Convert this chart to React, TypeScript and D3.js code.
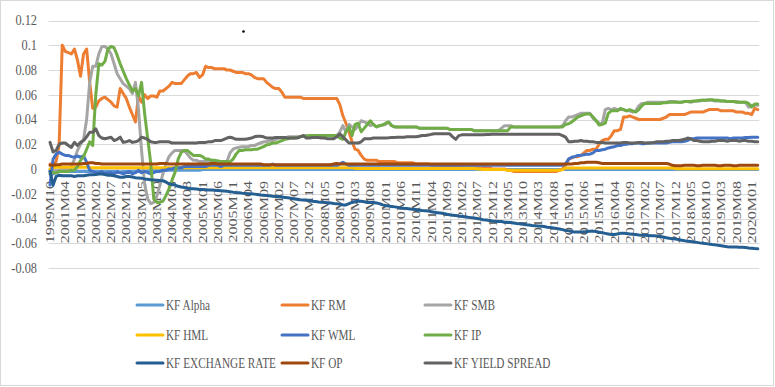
import React from 'react';
import * as d3 from 'd3';

// x axis: one label every 5 months (first row is labelled 1999M10)
const xTickLabels = [
  '1999M10', '2001M04', '2001M09', '2002M02', '2002M07', '2002M12', '2003M05', '2003M10',
  '2004M03', '2004M08', '2005M01', '2005M06', '2005M11', '2006M04', '2006M09', '2007M02',
  '2007M07', '2007M12', '2008M05', '2008M10', '2009M03', '2009M08', '2010M01', '2010M06',
  '2010M11', '2011M04', '2011M09', '2012M02', '2012M07', '2012M12', '2013M05', '2013M10',
  '2014M03', '2014M08', '2015M01', '2015M06', '2015M11', '2016M04', '2016M09', '2017M02',
  '2017M07', '2017M12', '2018M05', '2018M10', '2019M03', '2019M08', '2020M01',
];
const yTicks = [-0.08, -0.06, -0.04, -0.02, 0, 0.02, 0.04, 0.06, 0.08, 0.1, 0.12];

const kfAlpha = [
  -0.001, -0.004, -0.003, -0.002, -0.002, -0.002, -0.002, -0.002, -0.002, -0.002,
  -0.002, -0.002, -0.002, -0.002, -0.002, -0.002, -0.002, -0.002, -0.002, -0.002,
  -0.002, -0.002, -0.0025, -0.0025, -0.002, -0.002, -0.002, -0.002, -0.002, -0.002,
  -0.002, -0.002, -0.0015, -0.0015, -0.0015, -0.0015, -0.0015, -0.0015, -0.001, -0.001,
  -0.001, -0.001, -0.001, -0.001, -0.001, -0.001, -0.001, -0.001, -0.001, -0.001,
  -0.0005, -0.0005, -0.0005, -0.0005, -0.0005, -0.0005, -0.0005, -0.0005, -0.0005, -0.0005,
  -0.0005, -0.0005, -0.0005, -0.0005, -0.0005, -0.0005, -0.0005, -0.0005, -0.0005, -0.0005,
  -0.0005, -0.0005, -0.0005, -0.0005, -0.0005, -0.0005, -0.0005, -0.0005, -0.0005, -0.0005,
  -0.0005, -0.0005, -0.0005, -0.0005, -0.0005, -0.0005, -0.0005, -0.0005, -0.0005, -0.0005,
  -0.0005, -0.0005, -0.0005, -0.0005, -0.0005, -0.0005, -0.0005, -0.0005, -0.0005, -0.0005,
  -0.0005, -0.0005, -0.0005, -0.0005, -0.0005, -0.0005, -0.0005, -0.0005, -0.0005, -0.0005,
  -0.0005, -0.0005, -0.0005, -0.0005, -0.0005, -0.0005, -0.0005, -0.0005, -0.0005, -0.0005,
  -0.0005, -0.0005, -0.0005, -0.0005, -0.0005, -0.0005, -0.0005, -0.0005, -0.0005, -0.0005,
  -0.0005, -0.0005, -0.0005, -0.0005, -0.0005, -0.0005, -0.0005, -0.0005, -0.0005, -0.0005,
  -0.0005, -0.0005, -0.0005, -0.0005, -0.0005, -0.0005, -0.0005, -0.0005, -0.0005, -0.0005,
  -0.0005, -0.0005, -0.0005, -0.0005, -0.0005, -0.0005, -0.0005, -0.0005, -0.0005, -0.0005,
  -0.0005, -0.0005, -0.0005, -0.0005, -0.0005, -0.0005, -0.0005, -0.0005, -0.0005, -0.0005,
  -0.0005, -0.0005, -0.0005, -0.0005, -0.0005, -0.0005, -0.0005, -0.0005, -0.0005, -0.0005,
  -0.0005, -0.0005, -0.0005, -0.0005, -0.0005, -0.0005, -0.0005, -0.0005, -0.0005, -0.0005,
  -0.0005, -0.0005, -0.0005, -0.0005, -0.0005, -0.0005, -0.0005, -0.0005, -0.0005, -0.0005,
  -0.0005, -0.0005, -0.0005, -0.0005, -0.0005, -0.0005, -0.0005, -0.0005, -0.0005, -0.0005,
  -0.0005, -0.0005, -0.0005, -0.0005, -0.0005, -0.0005, -0.0005, -0.0005, -0.0005, -0.0005,
  -0.0005, -0.0005, -0.0005, -0.0005, -0.0005, -0.0005, -0.0005, -0.0005, -0.0005, -0.0005,
  -0.0005, -0.0005, -0.0005,
];

const kfRm = [
  0.004, 0.004, 0.006, 0.02, 0.1, 0.095, 0.094, 0.093, 0.097, 0.088,
  0.075, 0.093, 0.097, 0.07, 0.049, 0.05, 0.055, 0.057, 0.058, 0.056,
  0.054, 0.051, 0.05, 0.065, 0.061, 0.057, 0.05, 0.044, 0.038, 0.059,
  0.054, 0.06, 0.057, 0.059, 0.059, 0.058, 0.063, 0.063, 0.065, 0.067,
  0.07, 0.069, 0.069, 0.069, 0.072, 0.075, 0.077, 0.077, 0.078, 0.074,
  0.076, 0.083, 0.082, 0.082, 0.081, 0.081, 0.081, 0.081, 0.08, 0.08,
  0.079, 0.078, 0.078, 0.078, 0.077, 0.077, 0.076, 0.074, 0.073, 0.073,
  0.073, 0.07, 0.068, 0.066, 0.065, 0.065, 0.062, 0.058, 0.058, 0.058,
  0.058, 0.058, 0.058, 0.057, 0.057, 0.057, 0.057, 0.057, 0.057, 0.057,
  0.057, 0.057, 0.057, 0.057, 0.057, 0.052, 0.043, 0.037, 0.03, 0.022,
  0.016, 0.015, 0.011, 0.008, 0.007, 0.007, 0.007, 0.007, 0.006, 0.006,
  0.006, 0.006, 0.006, 0.006, 0.005, 0.005, 0.005, 0.005, 0.005, 0.005,
  0.004, 0.004, 0.004, 0.004, 0.004, 0.003, 0.003, 0.003, 0.002, 0.002,
  0.002, 0.002, 0.002, 0.002, 0.002, 0.001, 0.001, 0.001, 0.001, 0.001,
  0.001, 0.001, 0.001, 0.001, 0.001, 0, 0, 0, 0, 0,
  -0.001, -0.001, -0.002, -0.002, -0.002, -0.002, -0.002, -0.002, -0.002, -0.002,
  -0.002, -0.002, -0.002, -0.002, -0.002, -0.002, -0.002, -0.001, 0, 0.003,
  0.008, 0.009, 0.01, 0.01, 0.011, 0.013, 0.015, 0.015, 0.016, 0.016,
  0.02, 0.023, 0.024, 0.024, 0.027, 0.031, 0.031, 0.032, 0.042, 0.042,
  0.043, 0.042, 0.041, 0.04, 0.04, 0.04, 0.04, 0.04, 0.04, 0.04,
  0.04, 0.041, 0.042, 0.044, 0.044, 0.044, 0.044, 0.044, 0.044, 0.045,
  0.046, 0.046, 0.046, 0.046, 0.046, 0.047, 0.048, 0.048, 0.048, 0.048,
  0.047, 0.047, 0.047, 0.047, 0.047, 0.046, 0.046, 0.046, 0.045, 0.045,
  0.044, 0.049, 0.048,
];

const kfSmb = [
  -0.002, -0.002, -0.001, -0.001, 0, 0, -0.001, 0.002, 0.008, 0.015,
  0.02, 0.024, 0.04, 0.07, 0.083, 0.083, 0.093, 0.099, 0.099, 0.097,
  0.093, 0.085, 0.077, 0.073, 0.069, 0.067, 0.065, 0.061, 0.07, 0.048,
  0.015, -0.012, -0.024, -0.028, -0.027, -0.022, -0.013, -0.004, 0.004, 0.01,
  0.013, 0.015, 0.015, 0.015, 0.015, 0.012, 0.009, 0.007, 0.007, 0.006,
  0.006, 0.006, 0.006, 0.0055, 0.0055, 0.0055, 0.0055, 0.006, 0.006, 0.013,
  0.016, 0.017, 0.0175, 0.018, 0.018, 0.018, 0.019, 0.019, 0.02, 0.021,
  0.022, 0.022, 0.023, 0.023, 0.024, 0.025, 0.025, 0.025, 0.026, 0.026,
  0.026, 0.026, 0.026, 0.027, 0.027, 0.026, 0.027, 0.027, 0.027, 0.027,
  0.027, 0.027, 0.027, 0.026, 0.027, 0.03, 0.035, 0.03, 0.036, 0.034,
  0.032, 0.035, 0.039, 0.038, 0.037, 0.035, 0.036, 0.034, 0.035, 0.0355,
  0.036, 0.038, 0.035, 0.034, 0.034, 0.034, 0.034, 0.034, 0.034, 0.034,
  0.034, 0.033, 0.033, 0.033, 0.033, 0.033, 0.033, 0.033, 0.033, 0.033,
  0.033, 0.032, 0.032, 0.032, 0.032, 0.032, 0.032, 0.032, 0.032, 0.031,
  0.031, 0.031, 0.031, 0.031, 0.031, 0.031, 0.031, 0.031, 0.033, 0.035,
  0.035, 0.035, 0.034, 0.034, 0.034, 0.034, 0.034, 0.034, 0.034, 0.034,
  0.034, 0.034, 0.034, 0.034, 0.034, 0.034, 0.034, 0.034, 0.035, 0.039,
  0.042, 0.042, 0.043, 0.044, 0.045, 0.045, 0.045, 0.045, 0.041, 0.039,
  0.037, 0.0365, 0.048, 0.049, 0.048, 0.049, 0.048, 0.048, 0.048, 0.047,
  0.047, 0.046, 0.047, 0.051, 0.053, 0.053, 0.054, 0.054, 0.054, 0.054,
  0.054, 0.054, 0.054, 0.0545, 0.0545, 0.0545, 0.054, 0.054, 0.0545, 0.0545,
  0.054, 0.0545, 0.055, 0.055, 0.0555, 0.0555, 0.0555, 0.0555, 0.055, 0.055,
  0.055, 0.055, 0.0545, 0.0545, 0.0545, 0.0545, 0.054, 0.054, 0.054, 0.05,
  0.0515, 0.0515, 0.0515,
];

const kfHml = [
  0, 0.001, 0.0015, 0.0015, 0.0015, 0.0015, 0.0015, 0.0015, 0.0015, 0.0015,
  0.0015, 0.0015, 0.0015, 0.001, 0.001, 0.001, 0.001, 0.001, 0.001, 0.001,
  0.001, 0.001, 0.001, 0.001, 0.001, 0.001, 0.001, 0.001, 0.001, 0.001,
  0.001, 0.001, 0.001, 0.001, 0.001, 0.001, 0.001, 0.001, 0.001, 0.001,
  0.001, 0.001, 0.001, 0.001, 0.001, 0.001, 0.001, 0.001, 0.001, 0.001,
  0.001, 0.001, 0.001, 0.001, 0.001, 0.001, 0.001, 0.001, 0.001, 0.001,
  0.001, 0.001, 0.001, 0.001, 0.001, 0.001, 0.001, 0.001, 0.001, 0.001,
  0.001, 0.001, 0.001, 0.001, 0.001, 0.001, 0.001, 0.001, 0.001, 0.001,
  0.001, 0.001, 0.001, 0.001, 0.001, 0.001, 0.001, 0.001, 0.001, 0.001,
  0.001, 0.001, 0.001, 0.001, 0.001, 0.001, 0.001, 0.001, 0.001, 0.001,
  0.0005, 0.0005, 0.0005, 0.0005, 0.0005, 0.0005, 0.0005, 0.0005, 0.0005, 0.0005,
  0.0005, 0.0005, 0.0005, 0.0005, 0.0005, 0.0005, 0.0005, 0.0005, 0.0005, 0.0005,
  0.0005, 0.0005, 0.0005, 0.0005, 0.0005, 0.0005, 0.0005, 0.0005, 0.0005, 0.0005,
  0.0005, 0.0005, 0.0005, 0.0005, 0.0005, 0.0005, 0.0005, 0.0005, 0.0005, 0.0005,
  0, 0, -0.0005, -0.0005, -0.0005, -0.0005, -0.0005, -0.0005, -0.0005, -0.0005,
  -0.001, -0.001, -0.001, -0.001, -0.001, -0.001, -0.001, -0.001, -0.001, -0.001,
  -0.001, -0.001, -0.001, -0.001, -0.001, -0.001, -0.001, -0.001, -0.0005, 0.0008,
  0.0008, 0.0008, 0.0008, 0.0008, 0.0008, 0.0008, 0.0008, 0.0008, 0.0008, 0.0008,
  0.0008, 0.0008, 0.0008, 0.0008, 0.0008, 0.0008, 0.0008, 0.0008, 0.0008, 0.0008,
  0.0008, 0.0008, 0.0008, 0.0008, 0.0008, 0.0008, 0.0008, 0.0008, 0.0008, 0.0008,
  0.0008, 0.0008, 0.0008, 0.0008, 0.0008, 0.0003, 0.0003, 0.0003, 0.0003, 0.0003,
  0.0003, 0.0003, 0.0003, 0.0003, 0.0003, 0.0003, 0.0003, 0.0003, 0.0003, 0.0003,
  0.0003, 0.0003, 0.0003, 0.0003, 0.0003, 0.0003, 0.0003, 0.0003, 0.0003, 0.0003,
  0.0003, 0.0003, 0.0003,
];

const kfWml = [
  -0.013, 0.008, 0.012, 0.0135, 0.012, 0.011, 0.011, 0.01, 0.0095, 0.0105,
  0.0095, 0.0105, 0.0055, -0.001, -0.002, -0.003, -0.003, -0.002, -0.004, -0.003,
  -0.003, -0.004, -0.002, -0.003, -0.004, -0.003, -0.002, -0.004, -0.003, -0.001,
  -0.003, -0.002, -0.003, -0.004, -0.003, -0.002, -0.002, -0.001, -0.001, 0,
  0, 0.001, 0.001, 0.001, 0.002, 0.002, 0.002, 0.002, 0.002, 0.002,
  0.002, 0.002, 0.003, 0.003, 0.003, 0.003, 0.002, 0.003, 0.003, 0.003,
  0.003, 0.003, 0.003, 0.003, 0.003, 0.003, 0.003, 0.003, 0.003, 0.003,
  0.003, 0.003, 0.003, 0.004, 0.003, 0.003, 0.003, 0.003, 0.003, 0.003,
  0.003, 0.003, 0.003, 0.003, 0.003, 0.003, 0.003, 0.003, 0.003, 0.003,
  0.003, 0.003, 0.003, 0.003, 0.003, 0.004, 0.0055, 0.004, 0.003, 0.003,
  0.003, 0.003, 0.003, 0.003, 0.003, 0.003, 0.003, 0.003, 0.003, 0.003,
  0.003, 0.003, 0.003, 0.003, 0.003, 0.003, 0.003, 0.003, 0.003, 0.003,
  0.003, 0.003, 0.003, 0.003, 0.003, 0.003, 0.003, 0.003, 0.003, 0.003,
  0.003, 0.003, 0.003, 0.003, 0.003, 0.003, 0.003, 0.003, 0.003, 0.003,
  0.003, 0.003, 0.003, 0.003, 0.003, 0.003, 0.003, 0.003, 0.003, 0.003,
  0.003, 0.003, 0.003, 0.003, 0.003, 0.003, 0.003, 0.003, 0.003, 0.003,
  0.003, 0.003, 0.003, 0.003, 0.003, 0.003, 0.003, 0.003, 0.003, 0.004,
  0.008, 0.0095, 0.01, 0.011, 0.011, 0.0115, 0.012, 0.012, 0.013, 0.015,
  0.015, 0.0155, 0.016, 0.017, 0.0175, 0.018, 0.019, 0.019, 0.0197, 0.02,
  0.0205, 0.0205, 0.021, 0.021, 0.0204, 0.0205, 0.021, 0.021, 0.021, 0.021,
  0.021, 0.021, 0.021, 0.0215, 0.022, 0.022, 0.022, 0.022, 0.0225, 0.023,
  0.0244, 0.0244, 0.025, 0.025, 0.025, 0.025, 0.025, 0.025, 0.025, 0.025,
  0.025, 0.025, 0.025, 0.0245, 0.025, 0.025, 0.025, 0.025, 0.0255, 0.0255,
  0.0257, 0.0257, 0.0257,
];

const kfIp = [
  -0.004, -0.003, -0.003, -0.002, -0.002, -0.002, -0.002, -0.001, -0.001, 0.002,
  0.007, 0.01, 0.016, 0.022, 0.019, 0.06, 0.085, 0.084, 0.087, 0.097,
  0.099, 0.098, 0.092, 0.085, 0.079, 0.073, 0.068, 0.063, 0.065, 0.059,
  0.07, 0.045, 0.025, 0.005, -0.024, -0.027, -0.027, -0.026, -0.0215, -0.016,
  -0.009, -0.0025, 0.008, 0.0135, 0.015, 0.015, 0.013, 0.011, 0.011, 0.011,
  0.01, 0.008, 0.008, 0.007, 0.007, 0.0065, 0.006, 0.006, 0.006, 0.0057,
  0.008, 0.012, 0.015, 0.015, 0.0155, 0.0155, 0.0155, 0.016, 0.016, 0.017,
  0.018, 0.0195, 0.02, 0.021, 0.021, 0.022, 0.023, 0.024, 0.0245, 0.025,
  0.025, 0.0255, 0.026, 0.0265, 0.0265, 0.027, 0.027, 0.027, 0.027, 0.027,
  0.027, 0.027, 0.027, 0.027, 0.027, 0.025, 0.024, 0.03, 0.034, 0.027,
  0.036, 0.037, 0.03, 0.033, 0.036, 0.039, 0.036, 0.034, 0.035, 0.0355,
  0.037, 0.038, 0.035, 0.034, 0.034, 0.034, 0.034, 0.034, 0.034, 0.034,
  0.034, 0.033, 0.033, 0.033, 0.033, 0.033, 0.033, 0.033, 0.033, 0.033,
  0.033, 0.032, 0.032, 0.032, 0.032, 0.032, 0.032, 0.032, 0.032, 0.031,
  0.031, 0.031, 0.031, 0.031, 0.031, 0.031, 0.031, 0.031, 0.031, 0.031,
  0.031, 0.034, 0.034, 0.034, 0.034, 0.034, 0.034, 0.034, 0.034, 0.034,
  0.034, 0.034, 0.034, 0.034, 0.034, 0.034, 0.034, 0.034, 0.034, 0.036,
  0.0365, 0.038, 0.04, 0.042, 0.043, 0.044, 0.0445, 0.0445, 0.042, 0.039,
  0.0355, 0.036, 0.037, 0.045, 0.047, 0.047, 0.047, 0.049, 0.048, 0.047,
  0.048, 0.047, 0.046, 0.048, 0.051, 0.053, 0.053, 0.053, 0.053, 0.053,
  0.053, 0.0535, 0.0535, 0.054, 0.054, 0.054, 0.054, 0.054, 0.0545, 0.0545,
  0.0545, 0.055, 0.055, 0.0555, 0.0555, 0.0555, 0.056, 0.056, 0.0555, 0.0555,
  0.055, 0.055, 0.0545, 0.0545, 0.0545, 0.054, 0.054, 0.054, 0.054, 0.053,
  0.05, 0.0525, 0.0525,
];

const kfExchangeRate = [
  -0.002, -0.013, -0.006, -0.005, -0.0055, -0.0055, -0.0055, -0.0055, -0.006, -0.0055,
  -0.0055, -0.0055, -0.005, -0.0047, -0.0047, -0.0045, -0.004, -0.004, -0.0045, -0.005,
  -0.005, -0.0055, -0.006, -0.0066, -0.0066, -0.006, -0.006, -0.0065, -0.007, -0.0072,
  -0.0074, -0.008, -0.0083, -0.0086, -0.0088, -0.009, -0.0093, -0.0095, -0.0105, -0.012,
  -0.0125, -0.013, -0.014, -0.0146, -0.015, -0.0155, -0.016, -0.016, -0.0162, -0.0165,
  -0.0165, -0.0167, -0.017, -0.017, -0.0172, -0.0174, -0.0176, -0.0178, -0.018, -0.0183,
  -0.0187, -0.019, -0.0192, -0.0195, -0.0197, -0.02, -0.02, -0.0203, -0.0206, -0.021,
  -0.0212, -0.0215, -0.0217, -0.022, -0.0222, -0.0225, -0.0227, -0.023, -0.0233, -0.0237,
  -0.024, -0.0244, -0.0248, -0.025, -0.0253, -0.0256, -0.026, -0.0263, -0.0266, -0.0268,
  -0.027, -0.0272, -0.0275, -0.0278, -0.028, -0.0285, -0.029, -0.029, -0.028, -0.027,
  -0.0265, -0.026, -0.026, -0.0265, -0.027, -0.027, -0.027, -0.0275, -0.028, -0.029,
  -0.0295, -0.03, -0.0303, -0.0306, -0.031, -0.0315, -0.0318, -0.032, -0.0323, -0.0326,
  -0.033, -0.0333, -0.0336, -0.0338, -0.034, -0.0345, -0.035, -0.0353, -0.0356, -0.036,
  -0.0365, -0.037, -0.0373, -0.0376, -0.038, -0.0383, -0.0386, -0.039, -0.0393, -0.0396,
  -0.04, -0.0405, -0.041, -0.0413, -0.0416, -0.042, -0.0422, -0.0425, -0.0425, -0.043,
  -0.043, -0.0433, -0.0436, -0.044, -0.0443, -0.0446, -0.045, -0.0453, -0.0457, -0.0458,
  -0.046, -0.0462, -0.0465, -0.047, -0.0473, -0.0476, -0.048, -0.0485, -0.049, -0.0497,
  -0.05, -0.0505, -0.051, -0.051, -0.051, -0.0508, -0.0505, -0.0503, -0.0502, -0.0505,
  -0.051, -0.0515, -0.052, -0.0525, -0.053, -0.053, -0.0525, -0.052, -0.052, -0.0522,
  -0.0525, -0.0528, -0.053, -0.0533, -0.0535, -0.0536, -0.0538, -0.054, -0.054, -0.0542,
  -0.0545, -0.055, -0.0555, -0.056, -0.0563, -0.0566, -0.057, -0.0575, -0.058, -0.0583,
  -0.0586, -0.059, -0.0593, -0.0597, -0.06, -0.0603, -0.0606, -0.061, -0.0613, -0.0617,
  -0.062, -0.0625, -0.0628, -0.063, -0.063, -0.063, -0.0632, -0.0633, -0.0635, -0.0638,
  -0.064, -0.0643, -0.0645,
];

const kfOp = [
  0.003, 0.003, 0.0035, 0.0035, 0.004, 0.004, 0.004, 0.004, 0.004, 0.004,
  0.004, 0.0045, 0.0045, 0.005, 0.005, 0.0045, 0.0045, 0.004, 0.004, 0.004,
  0.004, 0.004, 0.004, 0.004, 0.004, 0.004, 0.004, 0.004, 0.004, 0.004,
  0.004, 0.004, 0.004, 0.004, 0.004, 0.004, 0.0045, 0.0045, 0.0045, 0.004,
  0.004, 0.004, 0.004, 0.004, 0.004, 0.004, 0.004, 0.004, 0.004, 0.004,
  0.004, 0.004, 0.004, 0.0045, 0.0045, 0.004, 0.004, 0.004, 0.004, 0.004,
  0.004, 0.004, 0.004, 0.004, 0.004, 0.004, 0.004, 0.004, 0.004, 0.004,
  0.0035, 0.0035, 0.0035, 0.0035, 0.0035, 0.0035, 0.0035, 0.0035, 0.0035, 0.0035,
  0.0035, 0.0035, 0.0035, 0.0035, 0.0035, 0.0035, 0.0035, 0.0035, 0.0035, 0.0035,
  0.0035, 0.0035, 0.0035, 0.004, 0.0045, 0.004, 0.004, 0.004, 0.004, 0.004,
  0.004, 0.004, 0.004, 0.004, 0.004, 0.004, 0.004, 0.004, 0.004, 0.004,
  0.004, 0.004, 0.004, 0.004, 0.004, 0.004, 0.004, 0.004, 0.004, 0.004,
  0.004, 0.004, 0.004, 0.004, 0.004, 0.004, 0.004, 0.004, 0.004, 0.004,
  0.004, 0.004, 0.004, 0.004, 0.004, 0.004, 0.004, 0.004, 0.004, 0.004,
  0.004, 0.004, 0.004, 0.004, 0.004, 0.004, 0.004, 0.004, 0.004, 0.004,
  0.004, 0.004, 0.004, 0.004, 0.004, 0.004, 0.004, 0.004, 0.004, 0.004,
  0.004, 0.004, 0.004, 0.004, 0.004, 0.004, 0.004, 0.004, 0.004, 0.004,
  0.004, 0.004, 0.0045, 0.0045, 0.005, 0.005, 0.0055, 0.0055, 0.0055, 0.0055,
  0.005, 0.0045, 0.0045, 0.0045, 0.0045, 0.0045, 0.0045, 0.0045, 0.0045, 0.0045,
  0.0045, 0.0045, 0.0045, 0.0045, 0.0045, 0.0045, 0.0045, 0.0045, 0.0045, 0.0045,
  0.0045, 0.0045, 0.0045, 0.004, 0.003, 0.0027, 0.0027, 0.0027, 0.003, 0.003,
  0.003, 0.003, 0.0027, 0.0027, 0.003, 0.003, 0.003, 0.003, 0.003, 0.0027,
  0.0027, 0.003, 0.003, 0.003, 0.0027, 0.0027, 0.003, 0.003, 0.003, 0.003,
  0.003, 0.003, 0.003,
];

const kfYieldSpread = [
  0.0215, 0.0137, 0.015, 0.02, 0.021, 0.021, 0.019, 0.0175, 0.0215, 0.019,
  0.0215, 0.023, 0.026, 0.0297, 0.0297, 0.0325, 0.027, 0.025, 0.0244, 0.025,
  0.0257, 0.023, 0.024, 0.0257, 0.0215, 0.022, 0.023, 0.0215, 0.022, 0.023,
  0.0257, 0.025, 0.024, 0.022, 0.0215, 0.0215, 0.022, 0.022, 0.022, 0.022,
  0.021, 0.021, 0.021, 0.021, 0.021, 0.021, 0.021, 0.021, 0.021, 0.0215,
  0.0215, 0.0215, 0.022, 0.022, 0.023, 0.023, 0.023, 0.024, 0.025, 0.0257,
  0.025, 0.024, 0.024, 0.024, 0.024, 0.0245, 0.025, 0.026, 0.0265, 0.0265,
  0.026, 0.025, 0.025, 0.025, 0.0255, 0.0255, 0.0255, 0.0255, 0.025, 0.025,
  0.025, 0.025, 0.026, 0.027, 0.025, 0.025, 0.0255, 0.0255, 0.0255, 0.025,
  0.025, 0.0245, 0.0245, 0.0244, 0.026, 0.0284, 0.026, 0.0235, 0.021, 0.021,
  0.021, 0.021, 0.022, 0.0244, 0.0244, 0.0245, 0.025, 0.025, 0.025, 0.025,
  0.025, 0.0252, 0.0255, 0.0255, 0.0257, 0.0257, 0.0257, 0.026, 0.026, 0.026,
  0.026, 0.0265, 0.027, 0.027, 0.0275, 0.028, 0.0284, 0.0284, 0.0284, 0.0284,
  0.0284, 0.0284, 0.026, 0.024, 0.027, 0.0276, 0.0276, 0.0276, 0.0276, 0.0276,
  0.0276, 0.0276, 0.0276, 0.0278, 0.0278, 0.028, 0.028, 0.028, 0.028, 0.028,
  0.028, 0.028, 0.028, 0.028, 0.028, 0.028, 0.028, 0.028, 0.028, 0.028,
  0.028, 0.028, 0.028, 0.028, 0.028, 0.028, 0.028, 0.028, 0.027, 0.0257,
  0.022, 0.022, 0.0225, 0.0225, 0.023, 0.0225, 0.0225, 0.022, 0.022, 0.0215,
  0.0215, 0.0215, 0.021, 0.021, 0.021, 0.021, 0.021, 0.021, 0.0215, 0.0215,
  0.021, 0.021, 0.021, 0.0215, 0.0215, 0.021, 0.021, 0.021, 0.0215, 0.022,
  0.022, 0.022, 0.0225, 0.0225, 0.023, 0.023, 0.023, 0.0235, 0.024, 0.025,
  0.0245, 0.023, 0.023, 0.0225, 0.022, 0.022, 0.022, 0.0225, 0.0225, 0.023,
  0.023, 0.023, 0.0225, 0.023, 0.023, 0.023, 0.0225, 0.023, 0.023, 0.0225,
  0.0225, 0.022, 0.022,
];

// drawing order = Excel series order (last one on top)
const series = [
  { name: 'KF Alpha', values: kfAlpha, color: '#5B9BD5' },
  { name: 'KF RM', values: kfRm, color: '#ED7D31' },
  { name: 'KF SMB', values: kfSmb, color: '#A5A5A5' },
  { name: 'KF HML', values: kfHml, color: '#FFC000' },
  { name: 'KF WML', values: kfWml, color: '#4472C4' },
  { name: 'KF IP', values: kfIp, color: '#70AD47' },
  { name: 'KF EXCHANGE RATE', values: kfExchangeRate, color: '#255E91' },
  { name: 'KF OP', values: kfOp, color: '#9E480E' },
  { name: 'KF YIELD SPREAD', values: kfYieldSpread, color: '#636363' },
];

const W = 775;
const H = 387;
const TEXT = '#595959';
const GRID = '#D9D9D9';
const serif = { fontFamily: "'Liberation Serif', 'DejaVu Serif', serif" };

export default function App() {
  const n = kfRm.length;
  const x = d3.scaleBand<number>().domain(d3.range(n)).range([48.5, 759.3]);
  const cx = (i: number) => (x(i) as number) + x.bandwidth() / 2;
  const y = d3.scaleLinear().domain([-0.08, 0.12]).range([268, 20.5]);

  const line = d3.line<number>()
    .x((_, i) => cx(i))
    .y(d => y(d));

  const legendCols = [137, 282, 425];
  const legendRows = [305, 335, 363];

  return (
    <div style={{ position: 'absolute', left: 0, top: 0 }}>
      <svg width={W} height={H} style={{ display: 'block', background: '#fff' }}>
        <rect x={0.5} y={0.5} width={W - 2} height={H - 2} fill="#fff" stroke={GRID} />

        {/* horizontal gridlines */}
        {yTicks.map(t => (
          <line key={t} x1={48.5} x2={759.3} y1={Math.round(y(t)) + 0.5} y2={Math.round(y(t)) + 0.5}
            stroke={GRID} strokeWidth={1} />
        ))}

        {/* y tick labels */}
        {yTicks.map(t => (
          <text key={'l' + t} transform={`translate(37,${y(t)}) scale(0.88,1)`} dy="0.35em"
            textAnchor="end" style={serif} fontSize={14} fill={TEXT}>
            {String(t)}
          </text>
        ))}

        {/* x tick labels, rotated, sitting on the zero axis */}
        {xTickLabels.map((lab, k) => (
          <text key={lab} transform={`translate(${cx(k * 5)},181) scale(0.74,1) rotate(-90)`}
            dy="0.35em" textAnchor="end" style={serif} fontSize={16} fill={TEXT}>
            {lab}
          </text>
        ))}

        {/* series */}
        {series.map(s => (
          <path key={s.name} d={line(s.values) ?? ''} fill="none" stroke={s.color}
            strokeWidth={3} strokeLinejoin="round" strokeLinecap="round" />
        ))}

        {/* stray dot present in the original picture */}
        <circle cx={243.5} cy={31.5} r={1.3} fill="#000" />

        {/* legend */}
        {series.map((s, k) => {
          const lx = legendCols[k % 3];
          const ly = legendRows[Math.floor(k / 3)];
          return (
            <g key={'lg' + s.name}>
              <line x1={lx} x2={lx + 26} y1={ly} y2={ly} stroke={s.color} strokeWidth={3}
                strokeLinecap="round" />
              <text transform={`translate(${lx + 29},${ly}) scale(0.75,1)`} dy="0.35em"
                style={serif} fontSize={15} fill={TEXT}>
                {s.name}
              </text>
            </g>
          );
        })}
      </svg>
    </div>
  );
}
